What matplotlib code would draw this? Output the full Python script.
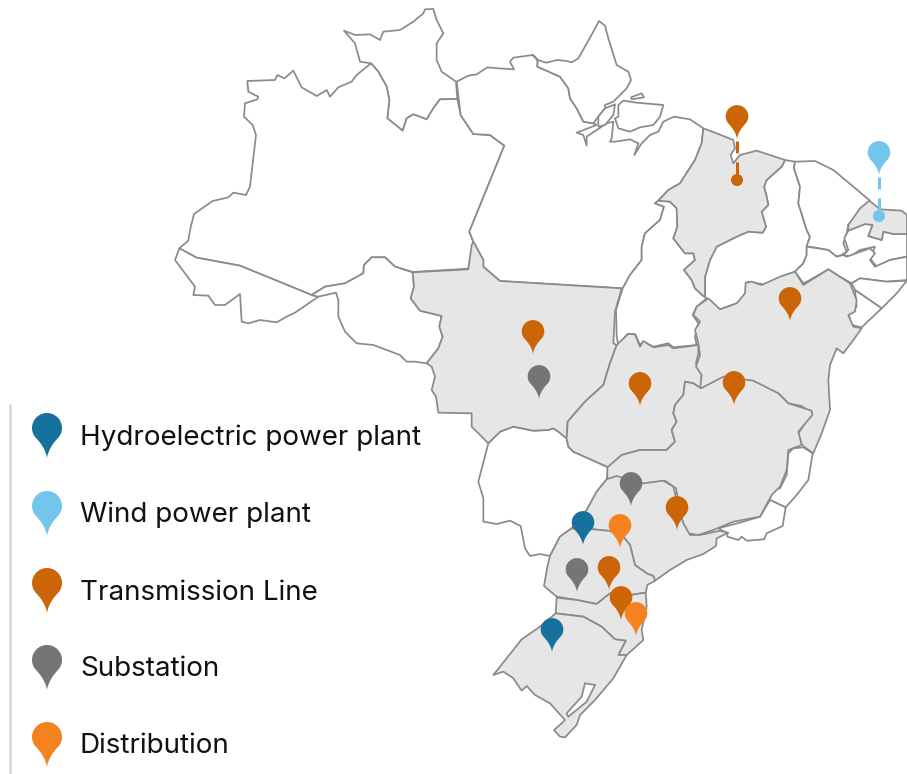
import matplotlib
matplotlib.use("Agg")
import matplotlib.pyplot as plt
from matplotlib.path import Path
from matplotlib.patches import PathPatch, Polygon, Circle

# Legend
categories = ["Hydroelectric power plant", "Wind power plant", "Transmission Line", "Substation", "Distribution"]
colors = {"Hydroelectric power plant": "#16719C", "Wind power plant": "#74C5EC", "Transmission Line": "#CB6508",
          "Substation": "#757575", "Distribution": "#F58220"}
legend_tips = [458, 536, 613, 690, 767]
legend_text_y = [438, 515, 593, 669, 746]

# Map pins: (category index, x, y of tip)
pin_cat = [2, 1, 2, 2, 3, 2, 2, 3, 2, 0, 4, 3, 2, 2, 4, 0]
pin_x = [737, 879, 790, 533, 539, 640, 734, 631, 677, 583, 620, 577, 609, 621, 636, 552]
pin_y = [139, 175, 321, 354, 399, 406, 405, 506, 530, 545, 548, 592, 590, 620, 636, 652]

# Zoom-frame origins the outlines were digitised in
Z1 = (170, 0); Z2 = (540, 80); Z3 = (400, 240); Z4 = (470, 430)
Z6 = (450, 10); Z7 = (780, 150); Z8 = (680, 260); Z9 = (640, 420)

def P(o, pts):
    return [(o[0] + x / 3, o[1] + y / 3) for x, y in pts]

roraima = P(Z1, [(522,92),(555,105),(600,103),(630,120),(640,95),(690,90),(730,65),(760,40),(765,28),(790,27),(800,60),(820,100),(800,130),(800,180),(815,215),(858,245),(862,297),(810,298),(790,325),(770,358),(730,343),(710,355),(698,392),(652,355),(658,300),(650,260),(625,215),(603,190),(570,185),(555,130)])
amazonas = P(Z1, [(603,190),(560,225),(545,245),(505,262),(480,290),(470,270),(440,288),(395,262),(370,212),(343,235),(322,225),(315,240),(232,243),(235,275),(265,290),(262,298),(225,310),(222,350),(248,375),(258,405),(240,560),(228,585),(190,578),(175,592),(128,603),(72,642),(60,690),(55,722),(28,745),(80,773),(210,797),(425,885),(465,860),(525,850),(580,820),(582,795),(605,772),(645,772),(675,800),(728,816),(895,806),(910,725),(898,695),(1003,437),(960,405),(910,402),(872,345),(862,297),(810,298),(790,325),(770,358),(730,343),(710,355),(698,392),(652,355),(658,300),(650,260),(625,215)])
acre = P(Z1, [(28,745),(15,780),(30,800),(75,860),(70,885),(115,887),(135,915),(165,915),(210,882),(215,965),(235,970),(270,960),(320,967),(350,950),(375,938),(445,890),(425,885),(210,797),(80,773)])
rondonia = P(Z1, [(425,885),(445,890),(498,878),(505,900),(505,950),(525,995),(560,1030),(610,1035),(650,1050)]) + \
    P(Z3, [(0,345),(20,365),(45,365),(80,370),(115,325),(128,290),(118,260),(125,228),(60,212),(32,175),(42,140),(38,97)]) + \
    P(Z1, [(675,800),(645,772),(605,772),(582,795),(580,820),(525,850),(465,860)])
para = P(Z6, [(20,215),(55,197),(80,193),(112,172),(145,175),(192,178),(180,155),(190,143),(248,135),(263,150),(262,170),(330,200),(355,235),(360,265),(380,295),(400,335),(430,340),(440,345),(380,368),(400,375),(410,407),(410,380),(470,340),(490,335),(485,385),(480,395),(495,395),(540,388),(565,400),(553,435),(575,400),(600,375),(625,365),(640,335),(672,320),(720,328)]) + \
    P(Z2, [(490,145),(485,190),(465,240),(420,310),(385,330),(355,362),(345,370),(372,380),(360,420),(315,460),(305,500),(305,540),(270,585),(248,625)]) + \
    P(Z3, [(300,123),(250,80),(250,60),(220,5)]) + \
    P(Z1, [(898,695),(1003,437),(960,405),(910,402),(872,345)])
amapa = P(Z6, [(248,135),(263,150),(290,158),(320,150),(350,153),(365,157),(385,145),(430,65),(447,33),(465,47),(475,85),(500,165),(535,185),(543,210),(530,235),(490,275),(465,285),(465,295),(445,320),(430,340),(400,335),(380,295),(360,265),(355,235),(330,200),(262,170),(263,150)])
marajo = P(Z6, [(505,285),(520,272),(560,278),(640,285),(630,320),(610,345),(570,352),(540,365),(505,355),(495,325),(505,320)])
isle_small = P(Z6, [(543,262),(575,250),(582,262),(545,268)])
isle_narrow = P(Z6, [(465,295),(495,283),(490,315),(465,345),(445,350),(445,320)])
maranhao = P(Z2, [(490,145),(530,160),(580,180),(585,205),(572,225),(580,250),(600,225),(650,212),(735,240),(725,260),(680,300),(672,320),(680,350),(685,375),(665,395),(678,440),(668,458),(625,455),(590,470),(530,500),(510,540),(495,590),(495,650),(490,648),(465,625),(455,600),(432,570),(465,540),(460,520),(435,520),(400,475),(412,440),(410,385),(390,365),(355,362),(385,330),(420,310),(465,240),(485,190)])
tocantins = P(Z2, [(355,362),(345,370),(372,380),(360,420),(315,460),(305,500),(305,540),(270,585),(248,625),(228,690),(230,770),(235,795),(262,762),(285,762),(300,795),(310,785),(340,800),(385,790),(400,802),(470,795),(465,770),(475,730),(458,705),(470,680),(500,655),(490,648),(465,625),(455,600),(432,570),(465,540),(460,520),(435,520),(400,475),(412,440),(410,385),(390,365)])
piaui = P(Z2, [(735,240),(765,245),(762,265),(780,320),(775,370),(800,450),(810,470),(800,500),(800,525),(790,550),(765,575),(725,590),(680,615),(625,605),(615,650),(590,670),(540,688),(500,655),(495,650),(495,590),(510,540),(530,500),(590,470),(625,455),(668,458),(678,440),(665,395),(685,375),(680,350),(672,320),(680,300),(725,260)])
ceara = P(Z2, [(765,245),(825,243),(880,270),(940,320),(990,362),(960,390),(925,435),(920,460),(910,490),(920,515),(905,525),(890,530),(865,510),(810,500),(800,500),(810,470),(800,450),(775,370),(780,320),(762,265)])
rn = P(Z7, [(268,152),(300,178),(365,182),(381,195),(381,252),(340,252),(310,245),(305,270),(265,258),(278,225),(255,222),(205,242),(205,225),(240,175)])
paraiba = P(Z7, [(205,242),(193,265),(205,300),(190,315),(210,320),(240,300),(285,290),(270,325),(290,350),(330,330),(381,320),(381,252),(340,252),(310,245),(305,270),(265,258),(278,225),(255,222)])
pernambuco = P(Z2, [(800,500),(865,510),(890,530),(910,525),(920,530),(990,505),(1005,520),(990,540),(1005,560),(1050,540),(1101,530),(1101,600),(1040,605),(960,595),(935,610),(900,590),(865,568),(810,600),(790,610),(765,575),(790,550),(800,525)])
alagoas = P(Z2, [(935,610),(960,595),(1040,605),(1101,602),(1070,640),(1025,685),(945,630)])
sergipe = P(Z2, [(945,630),(1025,685),(965,742),(935,735),(925,700),(950,680)])
bahia = P(Z8, [(85,115),(120,148),(170,130),(195,100),(197,68),(215,65),(245,75),(300,50),(345,35),(370,75),(445,28),(510,70),(530,120),(525,155),(505,165),(520,200),(545,205),(520,240),(490,280),(470,265),(450,315),(445,360),(450,450),(425,520),(400,580),(365,555),(355,520),(395,460),(365,438),(325,430),(295,400),(265,395),(220,365),(195,365),(130,355),(60,388),(65,345),(48,320),(60,285),(55,250),(45,210),(60,185),(40,165),(50,140)])
goias = P(Z3, [(650,315),(685,282),(705,283),(720,320),(730,303),(760,322),(805,315),(820,325),(895,315),(895,340),(888,370),(905,400),(903,445),(880,430),(855,425),(850,465),(825,495),(820,520),(830,545),(815,570),(825,605),(800,630),(720,630),(665,645),(625,682),(520,635),(505,620),(500,595),(503,545),(555,485),(610,435),(630,370)])
mato_grosso = P(Z3, [(38,97),(205,88),(215,15),(220,5),(250,60),(250,80),(300,123),(665,145),(645,215),(640,310),(650,315),(630,370),(610,435),(555,485),(503,545),(500,595),(475,575),(460,565),(445,570),(400,572),(340,560),(300,575),(265,610),(215,560),(215,520),(115,518),(108,470),(95,450),(105,410),(95,380),(80,370),(115,325),(128,290),(118,260),(125,228),(60,212),(32,175),(42,140)])
ms = P(Z3, [(265,610),(300,575),(340,560),(400,572),(445,570),(460,565),(475,575),(500,595),(505,620),(520,635),(625,682)]) + \
    P(Z4, [(410,148),(380,185),(350,240),(335,260),(305,295),(270,320),(240,378),(210,372),(180,378),(165,355),(152,288),(120,272),(80,282),(40,275),(40,205),(25,155)])
minas = P(Z3, [(622,682),(665,645),(720,630),(800,630),(825,605),(815,570),(830,545),(820,520),(825,495),(850,465),(855,425),(880,430),(903,445),(970,410),(1060,422),(1135,460),(1165,490),(1235,512),(1237,525),(1195,575),(1205,615),(1165,630),(1160,690),(1140,740),(1115,765),(1080,830),(1000,845),(940,870),(895,885),(865,880),(845,840),(828,745),(795,722),(725,735),(693,720),(622,720)])
espirito = P(Z9, [(490,82),(518,100),(505,180),(470,225),(437,262),(390,240),(395,205),(420,205),(440,165),(445,100),(460,85)])
rio = P(Z9, [(390,240),(437,262),(428,318),(380,340),(372,358),(320,362),(305,350),(295,360),(262,350),(262,340),(235,325),(310,305),(360,290)])
sao_paulo = P(Z4, [(410,148),(440,138),(480,150),(520,160),(580,152),(610,170),(625,230),(640,280),(660,315),(690,315),(750,302),(775,308),(740,325),(738,348),(700,372),(650,390),(600,420),(555,452),(550,438),(530,430),(495,405),(480,345),(460,320),(420,303),(370,298),(305,295),(335,260),(350,240),(380,185)])
parana = P(Z4, [(305,295),(370,298),(420,303),(460,320),(480,345),(495,405),(530,430),(550,438),(555,452),(532,465),(527,488),(480,495),(420,490),(380,522),(320,510),(260,500),(222,468),(232,410),(240,378),(270,320)])
santa_catarina = P(Z4, [(260,503),(320,510),(380,522),(420,490),(480,495),(527,488),(530,530),(515,600),(520,630),(470,675),(445,675),(467,632),(435,628),(395,590),(340,560),(257,550)])
rio_grande = P(Z4, [(257,550),(340,560),(395,590),(435,628),(467,632),(445,675),(470,675),(430,745),(375,810),(330,855),(320,885),(285,922),(270,920),(252,900),(275,880),(285,870),(240,820),(195,795),(170,768),(155,782),(130,745),(100,725),(70,735),(155,628),(210,590)])
lagoon = P(Z4, [(345,760),(375,765),(350,815),(295,860),(290,850),(335,800)])

white_regions = [roraima, amazonas, acre, rondonia, para, amapa, marajo, isle_small, isle_narrow, tocantins,
                 piaui, ceara, paraiba, pernambuco, alagoas, sergipe, ms, espirito, rio]
gray_regions = [maranhao, rn, mato_grosso, goias, bahia, minas, sao_paulo, parana, santa_catarina, rio_grande]

FILL = "#E6E6E6"
EDGE = "#8A8A8A"
LW = 1.25

plt.rcParams["font.family"] = ["Inter", "DejaVu Sans"]
fig = plt.figure(figsize=(9.07, 7.74), dpi=100)
ax = fig.add_axes([0, 0, 1, 1])
ax.set_xlim(0, 907)
ax.set_ylim(774, 0)
ax.axis("off")

for r in white_regions:
    ax.add_patch(Polygon(r, closed=True, fc="white", ec=EDGE, lw=LW, joinstyle="round", zorder=1))
for r in gray_regions:
    ax.add_patch(Polygon(r, closed=True, fc=FILL, ec=EDGE, lw=LW, joinstyle="round", zorder=2))
ax.add_patch(Polygon(lagoon, closed=True, fc="white", ec=EDGE, lw=LW, zorder=3))

k = 0.5523
cy = 2.0
PIN_V = [(0, 0),
         (-0.08, 0.55), (-0.42, 1.0), (-0.7, cy - 0.7),
         (-0.89, cy - 0.52), (-1, cy - 0.27), (-1, cy),
         (-1, cy + k), (-k, cy + 1), (0, cy + 1),
         (k, cy + 1), (1, cy + k), (1, cy),
         (1, cy - 0.27), (0.89, cy - 0.52), (0.7, cy - 0.7),
         (0.42, 1.0), (0.08, 0.55), (0, 0), (0, 0)]
PIN_C = [Path.MOVETO] + [Path.CURVE4] * 18 + [Path.CLOSEPOLY]

def pin(x, y, color, r, z):
    v = [(x + px * r, y - py * r) for px, py in PIN_V]
    ax.add_patch(PathPatch(Path(v, PIN_C), fc=color, ec="none", zorder=z))

# Leader lines with dots for the two coastal pins
ax.plot([737, 737], [141, 177], color=colors["Transmission Line"], lw=2.2, dashes=(3.9, 2.95), dash_capstyle="butt", zorder=5)
ax.add_patch(Circle((737, 180), 6, fc=colors["Transmission Line"], ec="none", zorder=5))
ax.plot([879, 879], [177, 213], color=colors["Wind power plant"], lw=2.2, dashes=(3.9, 2.95), dash_capstyle="butt", zorder=5)
ax.add_patch(Circle((879, 216), 6, fc=colors["Wind power plant"], ec="none", zorder=5))

for i, (c, x, y) in enumerate(zip(pin_cat, pin_x, pin_y)):
    pin(x, y, colors[categories[c]], 11.3, 6 + i * 0.01)

# Legend
ax.plot([10, 10], [404, 774], color="#D9D9D9", lw=2.0, solid_capstyle="butt", zorder=1)
for name, tip, ty in zip(categories, legend_tips, legend_text_y):
    pin(47, tip, colors[name], 15, 7)
    ax.text(80, ty, name, fontsize=20, color="#111111", va="center", ha="left", zorder=8)

fig.savefig("out.png", dpi=100)
